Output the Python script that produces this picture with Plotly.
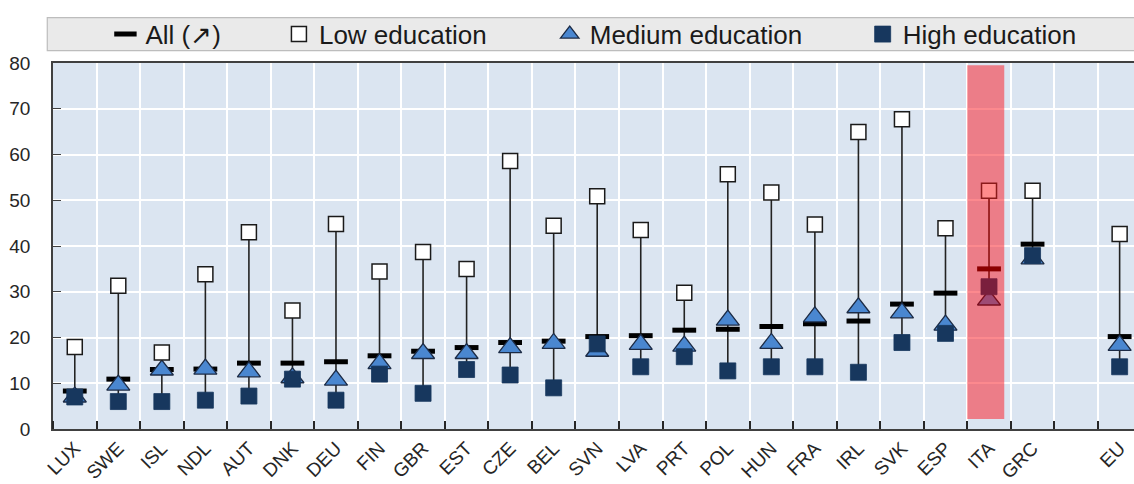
import plotly.graph_objects as go

# Share of adults (%) by education level, countries ranked by the overall rate
countries = ["LUX", "SWE", "ISL", "NDL", "AUT", "DNK", "DEU", "FIN", "GBR", "EST",
             "CZE", "BEL", "SVN", "LVA", "PRT", "POL", "HUN", "FRA", "IRL", "SVK",
             "ESP", "ITA", "GRC", "EU"]
all_levels = [8.3, 10.9, 13.0, 13.1, 14.4, 14.4, 14.7, 16.0, 17.0, 17.8,
              18.9, 19.2, 20.2, 20.4, 21.6, 21.8, 22.4, 23.0, 23.6, 27.3,
              29.7, 35.0, 40.4, 20.2]
low_edu = [17.9, 31.3, 16.7, 33.8, 43.0, 25.9, 44.8, 34.4, 38.7, 35.0,
           58.6, 44.4, 50.9, 43.5, 29.8, 55.7, 51.7, 44.7, 64.9, 67.7,
           43.9, 52.1, 52.1, 42.6]
medium_edu = [7.0, 9.6, 12.9, 13.1, 12.5, 11.2, 10.7, 14.3, 16.5, 16.5,
              17.8, 18.7, 17.0, 18.5, 18.1, 23.8, 18.7, 24.5, 26.5, 25.4,
              22.7, 28.2, 37.2, 18.3]
high_edu = [7.0, 6.0, 6.0, 6.3, 7.2, 10.9, 6.3, 12.0, 7.8, 13.0,
            11.8, 9.0, 18.6, 13.6, 15.8, 12.7, 13.6, 13.6, 12.4, 18.9,
            20.9, 31.1, 37.9, 13.6]
highlight = "ITA"

# slot positions: the EU aggregate sits after an empty slot
xpos = list(range(len(countries) - 1)) + [len(countries)]

hl = [c == highlight for c in countries]

def pick(normal, special):
    return [special if h else normal for h in hl]

# vertical range lines from the smallest to the largest value
def range_segments(flag):
    xs, ys = [], []
    for i, c in enumerate(countries):
        if hl[i] != flag:
            continue
        vals = [all_levels[i], low_edu[i], medium_edu[i], high_edu[i]]
        xs += [xpos[i], xpos[i], None]
        ys += [min(vals), max(vals), None]
    return xs, ys

fig = go.Figure()

for flag, col in [(False, "#222222"), (True, "#8b1010")]:
    xs, ys = range_segments(flag)
    fig.add_trace(go.Scatter(x=xs, y=ys, mode="lines", line=dict(color=col, width=1.6),
                             showlegend=False, hoverinfo="skip"))

fig.add_trace(go.Scatter(
    x=xpos, y=all_levels, mode="markers", name="All (\u2197)", legend="legend",
    marker=dict(symbol="line-ew", size=17,
                line=dict(width=5, color=pick("#000000", "#8b0000")))))

fig.add_trace(go.Scatter(
    x=xpos, y=medium_edu, mode="markers", name="Medium education", legend="legend3",
    marker=dict(symbol="triangle-up", size=20, color=pick("#4a87d0", "#9e4b74"),
                line=dict(width=1.3, color=pick("#1c2b45", "#7a1020")))))

fig.add_trace(go.Scatter(
    x=xpos, y=high_edu, mode="markers", name="High education", legend="legend4",
    marker=dict(symbol="square", size=16, color=pick("#17375e", "#7a1f3d"),
                line=dict(width=0.8, color=pick("#17375e", "#7a1f3d")))))

fig.add_trace(go.Scatter(
    x=xpos, y=low_edu, mode="markers", name="Low education", legend="legend2",
    marker=dict(symbol="square", size=15, color=pick("#ffffff", "#ff8c8c"),
                line=dict(width=1.5, color=pick("#1a1a1a", "#8b1a1a")))))

hi_x = xpos[countries.index(highlight)]
fig.add_shape(type="rect", xref="x", yref="y", x0=hi_x - 0.5, x1=hi_x + 0.35,
              y0=2.2, y1=79.5, fillcolor="rgb(250,40,50)", opacity=0.55,
              line=dict(width=0), layer="between")

# legend strip
fig.add_shape(type="rect", xref="paper", yref="paper", x0=-0.0053, x1=1.02,
              y0=1.0336, y1=1.1239, fillcolor="#eaeaea",
              line=dict(color="#bdbdbd", width=1.2), layer="below")

font_family = "Liberation Sans, Arial, sans-serif"
leg_common = dict(orientation="h", yanchor="middle", y=1.0787, xanchor="left",
                  bgcolor="rgba(0,0,0,0)", borderwidth=0,
                  font=dict(size=26, color="#1a1a1a", family=font_family))
leg_x = {"legend": 0.0485, "legend2": 0.209, "legend3": 0.4595, "legend4": 0.749}

layout_legends = {k: dict(leg_common, x=v) for k, v in leg_x.items()}

fig.update_layout(
    width=1134, height=484,
    margin=dict(l=53, r=0, t=63, b=55),
    paper_bgcolor="white", plot_bgcolor="#dbe5f1",
    font=dict(family=font_family, size=19, color="#262626"),
    **layout_legends,
    xaxis=dict(range=[-0.5, 24.33], tickmode="array", tickvals=xpos, ticktext=countries,
               tickangle=-45, ticks="", showgrid=False, zeroline=False, automargin=False,
               showline=True, mirror=True, linecolor="#404040", linewidth=1.5,
               ticklabelstandoff=-1, tickfont=dict(size=19, color="#262626"),
               minor=dict(tick0=-0.5, dtick=1, showgrid=True, gridcolor="white",
                          gridwidth=1.5, ticks="inside", ticklen=8, tickwidth=1.5,
                          tickcolor="#262626")),
    yaxis=dict(range=[0, 80], dtick=10, showgrid=True, gridcolor="white", gridwidth=1.5,
               ticks="inside", ticklen=8, tickwidth=1.2, tickcolor="#404040",
               zeroline=False, showline=True, linecolor="#404040", linewidth=1.5,
               automargin=False,
               ticklabelstandoff=17, tickfont=dict(size=19, color="#262626")),
)

fig.write_html("out.html")
